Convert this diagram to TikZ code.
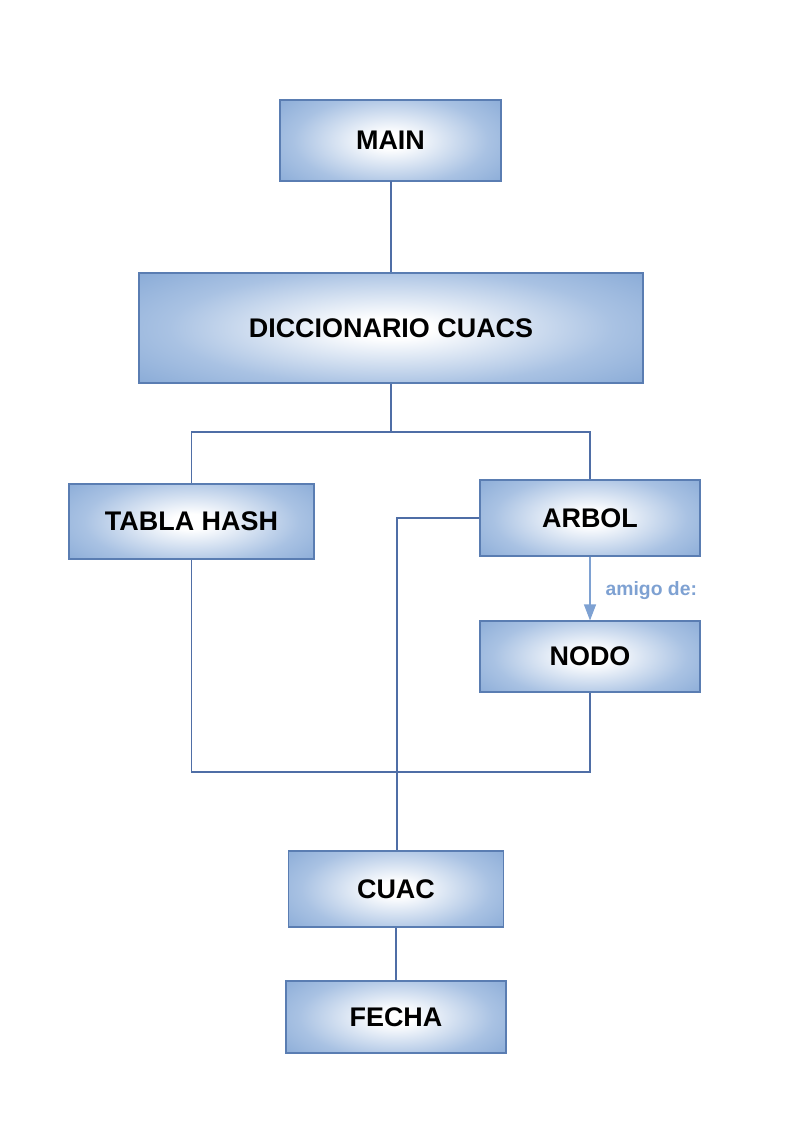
\documentclass[tikz,border=0pt]{standalone}
\usepackage{fontspec}
\setmainfont{Liberation Sans}
\usetikzlibrary{arrows.meta}
\definecolor{boxblue}{HTML}{6A94CB}
\definecolor{boxmid}{HTML}{A9C2E3}
\definecolor{boxedge}{HTML}{5A7DB2}
\definecolor{linecol}{HTML}{4F6EA6}
\definecolor{arrowcol}{HTML}{7EA1D2}
\pgfdeclareradialshading{boxshade}{\pgfpoint{0bp}{0bp}}{color(0bp)=(white); color(4bp)=(white); color(22bp)=(boxmid); color(44bp)=(boxblue); color(72bp)=(boxblue)}
\tikzset{
  blk/.style={draw=boxedge, line width=0.8pt, inner sep=0pt,
    font=\fontsize{20.2}{24}\selectfont\bfseries,
    path picture={\fill[shading=boxshade]
      ([yshift=-8pt]path picture bounding box.south west) rectangle
      ([yshift=8pt]path picture bounding box.north east);}},
  conn/.style={draw=linecol, line width=0.8pt},
}
\begin{document}
\begin{tikzpicture}[x=0.75pt,y=-0.75pt]
\useasboundingbox (0,0) rectangle (794,1123);
\node[blk, minimum width=165.75pt, minimum height=60.75pt] (main) at (390.5,140.5) {MAIN};
\node[blk, minimum width=378pt, minimum height=82.5pt] (dic) at (391,328) {DICCIONARIO CUACS};
\node[blk, minimum width=183.75pt, minimum height=56.25pt] (tabla) at (191.5,521.5) {TABLA HASH};
\node[blk, minimum width=165pt, minimum height=57pt] (arbol) at (590,518) {ARBOL};
\node[blk, minimum width=165pt, minimum height=53.25pt] (nodo) at (590,656.5) {NODO};
\node[blk, minimum width=161.25pt, minimum height=57pt] (cuac) at (396,889) {CUAC};
\node[blk, minimum width=165pt, minimum height=54pt] (fecha) at (396,1017) {FECHA};
\coordinate (j1) at (391,432);
\coordinate (j2) at (397,772);
\draw[conn] (main.south) -- (dic.south |- main.south) -- (dic.north);
\draw[conn] (dic.south) -- (j1) -| (tabla.north);
\draw[conn] (j1) -| (arbol.north);
\draw[conn] (arbol.west) -| (j2) -- (cuac.north -| j2);
\draw[conn] (tabla.south) |- (j2);
\draw[conn] (nodo.south) |- (j2);
\draw[conn] (cuac.south) -- (fecha.north);
\draw[draw=arrowcol, line width=0.8pt, -{Triangle[width=9pt,length=12pt]}] (arbol.south) -- (nodo.north)
  node[pos=0.55, right, xshift=8pt, yshift=1pt, text=arrowcol, font=\fontsize{14.5}{17}\selectfont\bfseries] (lbl) {amigo de:};
\end{tikzpicture}
\end{document}
